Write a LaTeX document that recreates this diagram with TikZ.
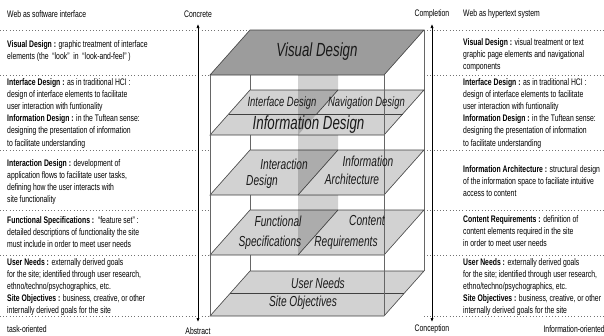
\documentclass[tikz,border=0pt]{standalone}
\usepackage{fontspec}
\setmainfont{Liberation Sans}
\newfontfamily\sidefont[FakeStretch=0.72]{Liberation Sans}
\newfontfamily\planefont[FakeStretch=0.7]{Liberation Sans}
\usetikzlibrary{arrows.meta}
\definecolor{planegray}{HTML}{D2D2D2}
\definecolor{topgray}{HTML}{9C9C9C}
\begin{document}
\begin{tikzpicture}[x=1pt,y=-1pt,
  dotline/.style={black!55, line width=0.6pt, dash pattern=on 0.8pt off 2.4pt},
  boxline/.style={black!60, line width=0.8pt},
  plane/.style={draw=black!75, line width=0.6pt, fill=planegray, line join=miter},
  topplane/.style={plane, fill=topgray},
  divline/.style={black!75, line width=0.6pt},
  slab/.style={fill=black, fill opacity=0.18},
  side/.style={inner sep=0pt, align=left, font={\sidefont\fontsize{9.5}{12.1}\selectfont}},
  axislabel/.style={inner sep=0pt, font={\sidefont\fontsize{9.5}{12}\selectfont}},
  bigtxt/.style={inner sep=0pt, text=black!90, font={\planefont\itshape\fontsize{19}{20}\selectfont}},
  midtxt/.style={inner sep=0pt, text=black!90, font={\planefont\itshape\fontsize{14.5}{16}\selectfont}},
  smalltxt/.style={inner sep=0pt, text=black!90, font={\planefont\itshape\fontsize{13.5}{15}\selectfont}},
  axis/.style={black, line width=0.7pt, {Latex[length=4pt,width=3.2pt]}-{Latex[length=4pt,width=3.2pt]}}
]
\useasboundingbox (0,0) rectangle (604,335);

% dotted level lines
\foreach \yy/\xl in {30/250,75/210,150/210,210/210,255/210,316/210}{
  \draw[dotline] (0,\yy) -- (\xl,\yy);
  \draw[dotline] (424,\yy) -- (604,\yy);
}

% back vertical edges of the box
\draw[boxline] (250,30) -- (250,271);
\draw[boxline] (424,30) -- (424,271);

% planes (front edge y, back edge y = front - 45; front x 210..384, back x 250..424)
\draw[plane] (210,316) -- (384,316) -- (424,271) -- (250,271) -- cycle;
\draw[divline] (230,293.5) -- (404,293.5);

\draw[plane] (210,255) -- (384,255) -- (424,210) -- (250,210) -- cycle;
\draw[divline] (298,255) -- (338,210);

\draw[plane] (210,195) -- (384,195) -- (424,150) -- (250,150) -- cycle;
\draw[divline] (298,195) -- (338,150);

\draw[plane] (210,135) -- (384,135) -- (424,90) -- (250,90) -- cycle;
\draw[divline] (228.7,114) -- (402.7,114);
\draw[divline] (316.7,114) -- (338,90);

\draw[topplane] (210,75) -- (384,75) -- (424,30) -- (250,30) -- cycle;

% translucent vertical slab
\fill[slab] (298,75) -- (338,75) -- (338,90) -- (298,135) -- cycle;
\fill[slab] (298,135) -- (338,135) -- (338,150) -- (298,195) -- cycle;
\fill[slab] (298,195) -- (338,195) -- (338,210) -- (298,255) -- cycle;

% front vertical edges
\draw[boxline] (210,75) -- (210,316);
\draw[boxline] (384,75) -- (384,316);

% plane labels
\node[bigtxt] (vd) at (317,52) {Visual Design};
\node[smalltxt] (ifd) at (282,103) {Interface Design};
\node[smalltxt] (nvd) at (366.5,103) {Navigation Design};
\node[bigtxt] (ind) at (308.5,125) {Information Design};
\node[midtxt] (ixa) at (284,164) {Interaction};
\node[midtxt] (ixb) at (262,182) {Design};
\node[midtxt] (iaa) at (368,161) {Information};
\node[midtxt] (iab) at (352,179) {Architecture};
\node[midtxt] (fsa) at (278,221) {Functional};
\node[midtxt] (fsb) at (270,243) {Specifications};
\node[midtxt] (cra) at (367,221) {Content};
\node[midtxt] (crb) at (346,243) {Requirements};
\node[midtxt] (un) at (318,283) {User Needs};
\node[midtxt] (so) at (303,303) {Site Objectives};

% axes
\coordinate (lt) at (198,24);
\coordinate (lb) at (198,322);
\coordinate (rt) at (432,24);
\coordinate (rb) at (432,322);
\draw[axis] (lb) -- (lt);
\draw[axis] (rb) -- (rt);
\node[axislabel] (conc) at (198,14) {Concrete};
\node[axislabel] (abst) at (198,331) {Abstract};
\node[axislabel] (compl) at (432,14) {Completion};
\node[axislabel] (concp) at (432,329) {Conception};

% left column
\node[side, anchor=west] (lhead) at (7,14) {Web as software interface};
\node[side, anchor=north west] (lvis) at (7,40.5) {{\bfseries Visual Design :} graphic treatment of interface\\elements (the~~“look”~~in~~“look-and-feel”~)};
\node[side, anchor=north west] (lint) at (7,78.5) {{\bfseries Interface Design :} as in traditional HCI :\\design of interface elements to facilitate\\user interaction with funtionality\\{\bfseries Information Design :} in the Tuftean sense:\\designing the presentation of information\\to facilitate understanding};
\node[side, anchor=north west] (lixd) at (7,159.5) {{\bfseries Interaction Design :} development of\\application flows to facilitate user tasks,\\defining how the user interacts with\\site functionality};
\node[side, anchor=north west] (lfun) at (7,216.5) {{\bfseries Functional Specifications :}~~“feature set” :\\detailed descriptions of functionality the site\\must include in order to meet user needs};
\node[side, anchor=north west] (luser) at (7,258.5) {{\bfseries User Needs :} externally derived goals\\for the site; identified through user research,\\ethno/techno/psychographics, etc.\\{\bfseries Site Objectives :} business, creative, or other\\internally derived goals for the site};
\node[side, anchor=west] (ltask) at (7,329) {task-oriented};

% right column
\node[side, anchor=west] (rhead) at (463,14) {Web as hypertext system};
\node[side, anchor=north west] (rvis) at (463,38.5) {{\bfseries Visual Design :} visual treatment or text\\graphic page elements and navigational\\components};
\node[side, anchor=north west] (rint) at (463,78.5) {{\bfseries Interface Design :} as in traditional HCI :\\design of interface elements to facilitate\\user interaction with funtionality\\{\bfseries Information Design :} in the Tuftean sense:\\designing the presentation of information\\to facilitate understanding};
\node[side, anchor=north west] (rarch) at (463,165.5) {{\bfseries Information Architecture :} structural design\\of the information space to faciliate intuitive\\access to content};
\node[side, anchor=north west] (rcont) at (463,215.5) {{\bfseries Content Requirements :} definition of\\content elements required in the site\\in order to meet user needs};
\node[side, anchor=north west] (ruser) at (463,258.5) {{\bfseries User Needs :} externally derived goals\\for the site; identified through user research,\\ethno/techno/psychographics, etc.\\{\bfseries Site Objectives :} business, creative, or other\\internally derived goals for the site};
\node[side, anchor=east] (rinfo) at (605,329) {Information-oriented};
\end{tikzpicture}
\end{document}
